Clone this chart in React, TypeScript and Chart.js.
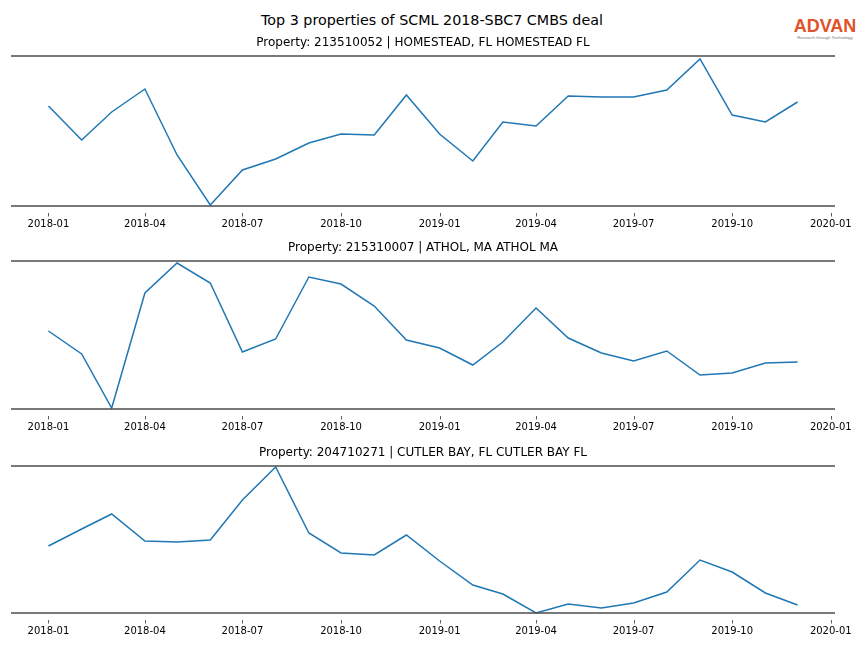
import React, { useEffect, useRef } from "react";
import { Chart, registerables } from "chart.js";

Chart.register(...registerables);

const MONTHS = [
  "2018-01", "2018-02", "2018-03", "2018-04", "2018-05", "2018-06",
  "2018-07", "2018-08", "2018-09", "2018-10", "2018-11", "2018-12",
  "2019-01", "2019-02", "2019-03", "2019-04", "2019-05", "2019-06",
  "2019-07", "2019-08", "2019-09", "2019-10", "2019-11", "2019-12",
];

const HOMESTEAD = [100, 66, 94, 117, 51, 1, 36, 47, 63, 72, 71, 111, 72, 45, 84, 80, 110, 109, 109, 116, 147, 91, 84, 104];
const ATHOL = [78, 55, 1, 116, 146, 126, 57, 70, 132, 125, 103, 69, 61, 44, 67, 101, 71, 56, 48, 58, 34, 36, 46, 47];
const CUTLER = [67, 84, 99, 72, 71, 73, 113, 146, 80, 60, 58, 78, 52, 28, 19, 0, 9, 5, 10, 21, 53, 41, 20, 8];

const TICK_LABELS = ["2018-01", "2018-04", "2018-07", "2018-10", "2019-01", "2019-04", "2019-07", "2019-10", "2020-01"];

const TITLES = [
  "Property: 213510052 | HOMESTEAD, FL HOMESTEAD FL",
  "Property: 215310007 | ATHOL, MA ATHOL MA",
  "Property: 204710271 | CUTLER BAY, FL CUTLER BAY FL",
];
const SERIES = [HOMESTEAD, ATHOL, CUTLER];
const Y_MAX = [150, 148, 147];

const MAIN_TITLE = "Top 3 properties of SCML 2018-SBC7 CMBS deal";

// layout (pixels)
const PANEL_TOPS = [56, 261, 466];
const PANEL_BOTTOMS = [206, 409, 613];
const PAD_TOP = 30;
const AXIS_H = 28;
const PAD_BOTTOM = 3;
const FONT = "'DejaVu Sans', sans-serif";

function dayOffset(label: string): number {
  const [y, m] = label.split("-").map(Number);
  return (Date.UTC(y, m - 1, 1) - Date.UTC(2018, 0, 1)) / 86400000;
}

const X_FIRST = dayOffset(MONTHS[0]);
const X_LAST = dayOffset(MONTHS[MONTHS.length - 1]);
const X_MARGIN = (X_LAST - X_FIRST) * 0.05;

function Panel({ idx }: { idx: number }) {
  const ref = useRef<HTMLCanvasElement | null>(null);
  const top = PANEL_TOPS[idx] - PAD_TOP;
  const height = PANEL_BOTTOMS[idx] - PANEL_TOPS[idx] + PAD_TOP + AXIS_H + PAD_BOTTOM;

  useEffect(() => {
    if (!ref.current) return;
    const tickVals = TICK_LABELS.map(dayOffset);
    const decor = {
      id: "decor",
      afterDraw(chart: any) {
        const { ctx, chartArea } = chart;
        const { left, right, top: t, bottom: b } = chartArea;
        ctx.save();
        ctx.strokeStyle = "#4d4d4d";
        ctx.lineWidth = 1.6;
        ctx.beginPath();
        ctx.moveTo(left, t);
        ctx.lineTo(right, t);
        ctx.moveTo(left, b);
        ctx.lineTo(right, b);
        ctx.stroke();
        // tick marks
        const xs = chart.scales.x;
        ctx.strokeStyle = "#333";
        ctx.lineWidth = 0.8;
        ctx.beginPath();
        tickVals.forEach((v) => {
          const px = Math.round(xs.getPixelForValue(v)) + 0.5;
          ctx.moveTo(px, b + 7);
          ctx.lineTo(px, b + 10.5);
        });
        ctx.stroke();
        // subplot title
        ctx.fillStyle = "#000";
        ctx.font = `12px ${FONT}`;
        ctx.textAlign = "center";
        ctx.textBaseline = "middle";
        ctx.fillText(TITLES[idx], (left + right) / 2, t - 13.5);
        ctx.restore();
      },
    };

    const chart = new Chart(ref.current, {
      type: "line",
      data: {
        datasets: [
          {
            data: MONTHS.map((m, i) => ({ x: dayOffset(m), y: SERIES[idx][i] })),
            borderColor: "#1f77b4",
            borderWidth: 1.5,
            pointRadius: 0,
            fill: false,
            tension: 0,
            clip: false as any,
          },
        ],
      },
      options: {
        animation: false,
        responsive: false,
        devicePixelRatio: 1,
        layout: { padding: { top: PAD_TOP, left: 11, right: 29, bottom: PAD_BOTTOM } },
        plugins: { legend: { display: false }, tooltip: { enabled: false }, title: { display: false } },
        scales: {
          x: {
            type: "linear",
            min: X_FIRST - X_MARGIN,
            max: X_LAST + X_MARGIN,
            afterBuildTicks: (scale: any) => {
              scale.ticks = tickVals.map((v) => ({ value: v }));
            },
            grid: { display: true, drawOnChartArea: false, drawTicks: true, tickLength: 8, color: "rgba(0,0,0,0)" },
            border: { display: false },
            ticks: {
              autoSkip: false,
              maxRotation: 0,
              padding: 4,
              color: "#000",
              font: { family: FONT, size: 10 },
              callback: (v: any) => {
                const i = tickVals.indexOf(Number(v));
                return i >= 0 ? TICK_LABELS[i] : "";
              },
            },
          },
          y: {
            display: false,
            min: 0,
            max: Y_MAX[idx],
          },
        },
      },
      plugins: [decor],
    } as any);
    return () => chart.destroy();
  }, [idx]);

  return (
    <canvas
      ref={ref}
      width={864}
      height={height}
      style={{ position: "absolute", left: 0, top, width: 864, height }}
    />
  );
}

export default function App() {
  return (
    <div
      style={{
        position: "fixed",
        left: 0,
        top: 0,
        width: 864,
        height: 648,
        background: "#fff",
        overflow: "hidden",
        fontFamily: FONT,
      }}
    >
      <div
        style={{
          position: "absolute",
          left: 0,
          width: 864,
          top: 11,
          textAlign: "center",
          fontSize: 14.3,
          lineHeight: "18px",
          color: "#000",
        }}
      >
        {MAIN_TITLE}
      </div>
      <div
        style={{
          position: "absolute",
          left: 790,
          top: 16,
          width: 70,
          textAlign: "center",
          color: "#e0522a",
          fontSize: 18,
          lineHeight: "20px",
          fontWeight: 700,
          letterSpacing: 0,
          fontFamily: "'Liberation Sans', Arial, sans-serif",
        }}
      >
        ADVAN
      </div>
      <div
        style={{
          position: "absolute",
          left: 786,
          top: 35,
          width: 78,
          textAlign: "center",
          color: "#777",
          fontSize: 4.2,
          lineHeight: "5px",
          fontFamily: "'Liberation Sans', Arial, sans-serif",
        }}
      >
        Research through Technology
      </div>
      {[0, 1, 2].map((i) => (
        <Panel key={i} idx={i} />
      ))}
    </div>
  );
}
